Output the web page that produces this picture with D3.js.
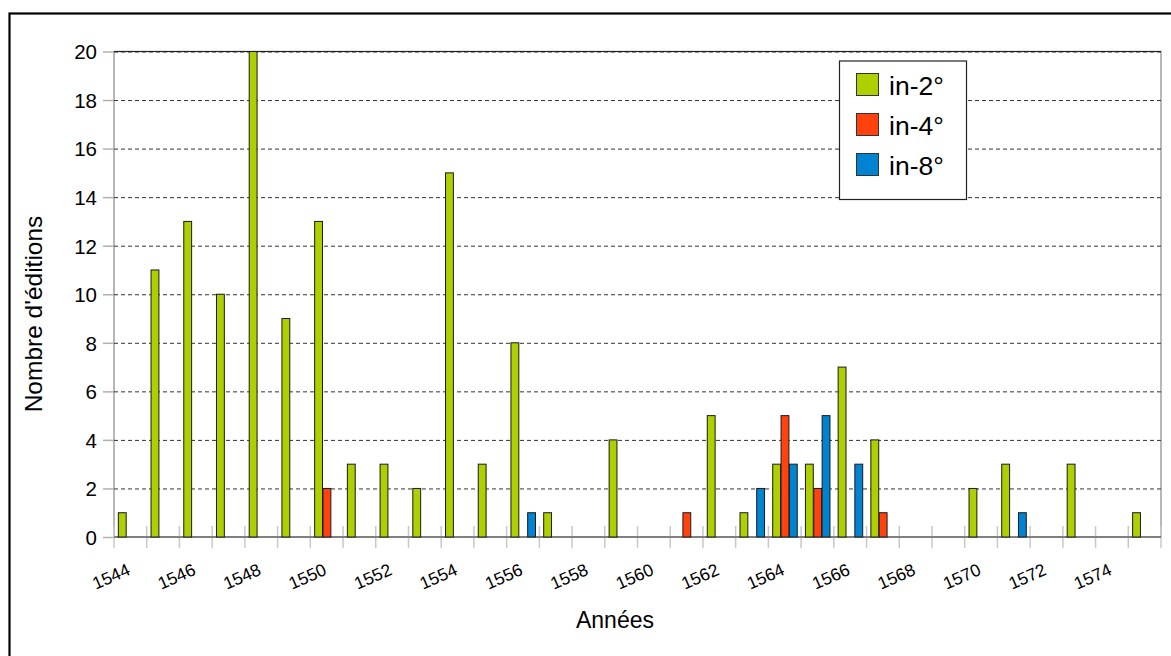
<!DOCTYPE html>
<html>
<head>
<meta charset="utf-8">
<style>
  body { margin: 0; background: #fff; }
  svg { display: block; font-family: "Liberation Sans", Arial, sans-serif; }

  /* grid and axes */
  .grid line { stroke: #333; stroke-width: 1px; stroke-dasharray: 4,3; }
  .grid .domain { display: none; }
  .yaxis .domain { display: none; }
  .yaxis line { stroke: #b0b0b0; stroke-width: 1.5px; }
  .bar { stroke: #1a1a1a; stroke-width: 1px; }
</style>
</head>
<body>

<div id="chart"></div>

<!-- load the d3.js library -->
<script src="https://d3js.org/d3.v7.min.js"></script>
<script>

// the data
var years = [1544, 1545, 1546, 1547, 1548, 1549, 1550, 1551, 1552, 1553, 1554,
             1555, 1556, 1557, 1558, 1559, 1560, 1561, 1562, 1563, 1564, 1565,
             1566, 1567, 1568, 1569, 1570, 1571, 1572, 1573, 1574, 1575];
var formats = ["in-2°", "in-4°", "in-8°"];
var in2 = [1, 11, 13, 10, 20, 9, 13, 3, 3, 2, 15,
           3, 8, 1, 0, 4, 0, 0, 5, 1, 3, 3,
           7, 4, 0, 0, 2, 3, 0, 3, 0, 1];
var in4 = [0, 0, 0, 0, 0, 0, 2, 0, 0, 0, 0,
           0, 0, 0, 0, 0, 0, 1, 0, 0, 5, 2,
           0, 1, 0, 0, 0, 0, 0, 0, 0, 0];
var in8 = [0, 0, 0, 0, 0, 0, 0, 0, 0, 0, 0,
           0, 1, 0, 0, 0, 0, 0, 0, 2, 3, 5,
           3, 0, 0, 0, 0, 1, 0, 0, 0, 0];
var colors = ["#aecf00", "#ff420e", "#0084d1"];
var yTicks = [0, 2, 4, 6, 8, 10, 12, 14, 16, 18, 20];
var xLabels = [1544, 1546, 1548, 1550, 1552, 1554, 1556, 1558,
               1560, 1562, 1564, 1566, 1568, 1570, 1572, 1574];

var series = [in2, in4, in8];

// set the dimensions and margins of the graph
var W = 1171, H = 656;
var margin = {top: 51.5, right: 10, bottom: 119, left: 114},
    width = W - margin.left - margin.right,
    height = H - margin.top - margin.bottom;

// set the ranges
var x0 = d3.scaleBand().domain(years).range([0, width]);
var x1 = d3.scaleBand().domain(formats).range([0, x0.bandwidth()]).paddingOuter(0.46);
var y = d3.scaleLinear().domain([0, 20]).range([height, 0]);

var svg = d3.select("#chart").append("svg")
    .attr("width", W)
    .attr("height", H);

// outer frame
svg.append("rect")
    .attr("x", 9.5).attr("y", 13.5)
    .attr("width", W).attr("height", H)
    .attr("fill", "none")
    .attr("stroke", "#000")
    .attr("stroke-width", 2.2);

var g = svg.append("g")
    .attr("transform", "translate(" + margin.left + "," + margin.top + ")");

// plot border
g.append("rect")
    .attr("width", width).attr("height", height)
    .attr("fill", "none")
    .attr("stroke", "#a0a0a0")
    .attr("stroke-width", 1.5);

// gridlines
g.append("g")
    .attr("class", "grid")
    .call(d3.axisLeft(y).tickValues(yTicks).tickSize(-width).tickFormat(""));

// top line
g.append("line")
    .attr("x1", 0).attr("x2", width)
    .attr("y1", y(20)).attr("y2", y(20))
    .attr("stroke", "#222").attr("stroke-width", 1.2);

// Add the Y Axis
g.append("g")
    .attr("class", "yaxis")
    .call(d3.axisLeft(y).tickValues(yTicks).tickSize(11).tickPadding(6))
    .attr("font-family", "'Liberation Sans', Arial, sans-serif")
    .attr("font-size", 20.5)
    .selectAll("text")
    .attr("fill", "#000")
    .attr("dy", "0.36em");

// x ticks at the category boundaries
g.selectAll(".xtick")
    .data(years.concat(["end"]))
  .enter().append("line")
    .attr("class", "xtick")
    .attr("x1", function(d) { return d === "end" ? width : x0(d); })
    .attr("x2", function(d) { return d === "end" ? width : x0(d); })
    .attr("y1", height - 11)
    .attr("y2", height + 11)
    .attr("stroke", "#c8c8c8")
    .attr("stroke-width", 1.5);

// baseline
g.append("line")
    .attr("x1", 0).attr("x2", width)
    .attr("y1", y(0)).attr("y2", y(0))
    .attr("stroke", "#808080").attr("stroke-width", 2);

// bars
var groups = g.selectAll(".year")
    .data(years)
  .enter().append("g")
    .attr("class", "year")
    .attr("transform", function(d) { return "translate(" + x0(d) + ",0)"; });

groups.selectAll("rect")
    .data(function(d, i) {
      return formats.map(function(f, j) { return {key: f, value: series[j][i], c: colors[j]}; });
    })
  .enter().filter(function(d) { return d.value > 0; }).append("rect")
    .attr("class", "bar")
    .attr("x", function(d) { return x1(d.key) + 0.5; })
    .attr("width", x1.bandwidth() - 0.5)
    .attr("y", function(d) { return y(d.value); })
    .attr("height", function(d) { return y(0) - y(d.value); })
    .attr("fill", function(d) { return d.c; });

// x labels, rotated
g.selectAll(".xlabel")
    .data(xLabels)
  .enter().append("text")
    .attr("class", "xlabel")
    .attr("text-anchor", "end")
    .attr("font-size", 17.5)
    .attr("transform", function(d) {
      return "translate(" + (x0(d) + x0.bandwidth() / 2 + 1) + "," + (height + 37) + ") rotate(-24)";
    })
    .text(function(d) { return d; });

// axis titles
svg.append("text")
    .attr("x", 615).attr("y", 628)
    .attr("text-anchor", "middle")
    .attr("font-size", 23)
    .text("Années");

svg.append("text")
    .attr("transform", "translate(42,314) rotate(-90)")
    .attr("text-anchor", "middle")
    .attr("font-size", 24.5)
    .text("Nombre d'éditions");

// legend
var legend = svg.append("g");
legend.append("rect")
    .attr("x", 839.5).attr("y", 61)
    .attr("width", 127).attr("height", 138.5)
    .attr("fill", "#fff")
    .attr("stroke", "#222")
    .attr("stroke-width", 1.2);

formats.forEach(function(f, i) {
  legend.append("rect")
      .attr("x", 856.5).attr("y", 73.5 + i * 40)
      .attr("width", 22).attr("height", 22)
      .attr("fill", colors[i])
      .attr("stroke", "#333");
  legend.append("text")
      .attr("x", 889).attr("y", 95 + i * 40)
      .attr("font-size", 26.5)
      .text(f);
});

</script>
</body>
</html>
